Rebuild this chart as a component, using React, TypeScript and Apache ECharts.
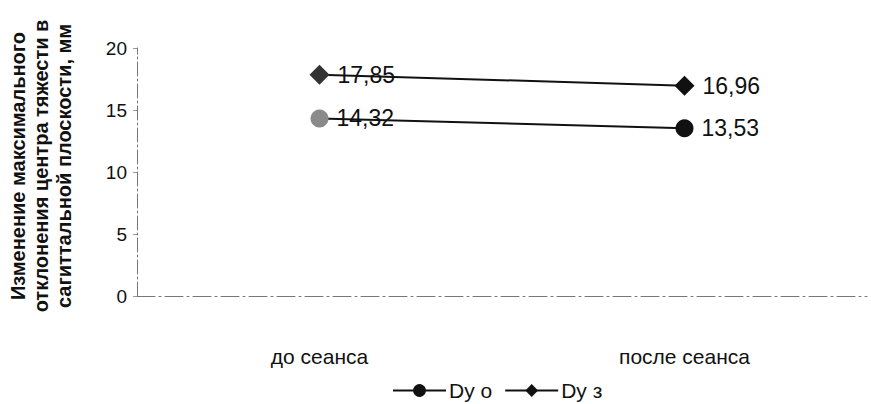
import React, { useEffect, useRef } from "react";
import * as echarts from "echarts";

const categories = ["до сеанса", "после сеанса"];
const dyO = [14.32, 13.53];
const dyZ = [17.85, 16.96];
const seriesNames = ["Dy о", "Dy з"];
const yTitle = ["Изменение максимального", "отклонения центра тяжести в", "сагиттальной плоскости, мм"];

const FONT = "'Liberation Sans', Arial, sans-serif";

export default function App() {
  const ref = useRef<HTMLDivElement>(null);
  useEffect(() => {
    const chart = echarts.init(ref.current!, null, { renderer: "svg" });
    const fmt = (p: any) => String(p.value).replace(".", ",");
    const label = {
      show: true,
      position: "right",
      distance: 8,
      fontSize: 23,
      color: "#111",
      formatter: fmt,
      fontFamily: FONT,
    };
    chart.setOption({
      animation: false,
      backgroundColor: "#fff",
      textStyle: { fontFamily: FONT },
      grid: { left: 137, right: 4, top: 48, bottom: 108, containLabel: false },
      graphic: [
        {
          type: "text",
          x: 41,
          y: 166,
          rotation: Math.PI / 2,
          style: {
            text: yTitle.join("\n"),
            font: `bold 20px ${FONT}`,
            fill: "#111",
            align: "center",
            verticalAlign: "middle",
            lineHeight: 23,
          },
        },
      ],
      legend: {
        bottom: -2,
        left: 387,
        itemWidth: 53,
        itemHeight: 16,
        itemGap: 12,
        textStyle: { fontSize: 21, color: "#111", fontFamily: FONT, padding: [0, 0, 0, -2] },
        data: seriesNames,
      },
      xAxis: {
        type: "category",
        data: categories,
        boundaryGap: true,
        axisLine: { lineStyle: { color: "#777", width: 1, type: [18, 4, 2, 4] } },
        axisTick: { show: false },
        axisLabel: { margin: 50, fontSize: 21, color: "#111", fontFamily: FONT },
      },
      yAxis: {
        type: "value",
        min: 0,
        max: 20,
        interval: 5,
        axisLine: { show: true, lineStyle: { color: "#777", width: 1, type: [14, 3, 2, 3] } },
        axisTick: { show: true, inside: false, length: 4, lineStyle: { color: "#999" } },
        splitLine: { show: false },
        axisLabel: { margin: 10, fontSize: 19, color: "#111", fontFamily: FONT },
      },
      series: [
        {
          name: seriesNames[0],
          type: "line",
          data: dyO.map((v, i) => ({
            value: v,
            itemStyle: { color: i === 0 ? "#8a8a8a" : "#111" },
          })),
          symbol: "circle",
          symbolSize: 18,
          lineStyle: { color: "#111", width: 2 },
          itemStyle: { color: "#111" },
          label,
        },
        {
          name: seriesNames[1],
          type: "line",
          data: dyZ.map((v, i) => ({
            value: v,
            itemStyle: { color: i === 0 ? "#333" : "#111" },
          })),
          symbol: "diamond",
          symbolSize: 20,
          lineStyle: { color: "#111", width: 2 },
          itemStyle: { color: "#111" },
          label,
        },
      ],
    });
    return () => chart.dispose();
  }, []);
  return (
    <div
      ref={ref}
      style={{ position: "fixed", left: 0, top: 0, width: 871, height: 404 }}
    />
  );
}
